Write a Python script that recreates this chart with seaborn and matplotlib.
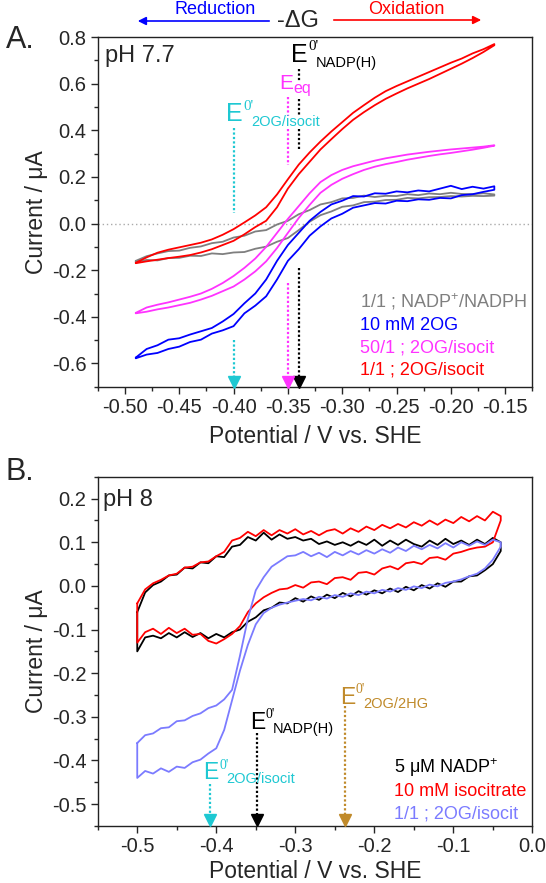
import numpy as np
import pandas as pd
import matplotlib
matplotlib.use("Agg")
import matplotlib.pyplot as plt
import seaborn as sns

# ---------------- panel A data (pH 7.7) ----------------
pot_a = [-0.49, -0.48, -0.47, -0.46, -0.45, -0.44, -0.43, -0.42, -0.41, -0.40,
         -0.39, -0.38, -0.37, -0.36, -0.35, -0.34, -0.33, -0.32, -0.31, -0.30,
         -0.29, -0.28, -0.27, -0.26, -0.25, -0.24, -0.23, -0.22, -0.21, -0.20,
         -0.19, -0.18, -0.17, -0.16]

nadp_up = [-0.160, -0.140, -0.128, -0.118, -0.116, -0.104, -0.098, -0.084, -0.078, -0.060,
           -0.052, -0.034, -0.028, -0.004, 0.012, 0.040, 0.058, 0.082, 0.092, 0.108,
           0.110, 0.120, 0.114, 0.119, 0.118, 0.126, 0.122, 0.129, 0.126, 0.132,
           0.127, 0.126, 0.130, 0.125]
nadp_dn = [-0.165, -0.156, -0.158, -0.148, -0.147, -0.138, -0.139, -0.128, -0.131, -0.124,
           -0.122, -0.108, -0.099, -0.078, -0.062, -0.028, 0.008, 0.036, 0.052, 0.072,
           0.078, 0.092, 0.094, 0.101, 0.102, 0.110, 0.108, 0.113, 0.114, 0.118,
           0.116, 0.119, 0.118, 0.120]

og_up = [-0.575, -0.538, -0.522, -0.498, -0.492, -0.476, -0.462, -0.448, -0.420, -0.388,
         -0.342, -0.300, -0.240, -0.160, -0.092, -0.040, 0.012, 0.050, 0.082, 0.098,
         0.118, 0.116, 0.130, 0.128, 0.138, 0.134, 0.142, 0.138, 0.150, 0.162,
         0.148, 0.158, 0.150, 0.160]
og_dn = [-0.578, -0.562, -0.555, -0.538, -0.528, -0.508, -0.498, -0.472, -0.458, -0.440,
         -0.385, -0.352, -0.312, -0.240, -0.160, -0.110, -0.052, -0.012, 0.022, 0.042,
         0.068, 0.078, 0.088, 0.086, 0.098, 0.096, 0.104, 0.102, 0.110, 0.108,
         0.122, 0.126, 0.136, 0.145]

mix50_up = [-0.383, -0.360, -0.348, -0.338, -0.326, -0.314, -0.300, -0.280, -0.255, -0.225,
            -0.190, -0.150, -0.100, -0.040, 0.020, 0.075, 0.130, 0.178, 0.208, 0.230,
            0.246, 0.258, 0.270, 0.280, 0.288, 0.296, 0.302, 0.308, 0.313, 0.318,
            0.322, 0.326, 0.330, 0.336]
mix50_dn = [-0.385, -0.378, -0.368, -0.360, -0.350, -0.340, -0.326, -0.310, -0.290, -0.270,
            -0.240, -0.205, -0.162, -0.105, -0.040, 0.024, 0.080, 0.132, 0.166, 0.192,
            0.212, 0.230, 0.244, 0.255, 0.264, 0.274, 0.282, 0.290, 0.297, 0.303,
            0.310, 0.317, 0.325, 0.334]

mix1_up = [-0.168, -0.145, -0.125, -0.112, -0.102, -0.092, -0.082, -0.068, -0.048, -0.024,
           0.005, 0.035, 0.070, 0.125, 0.190, 0.253, 0.305, 0.352, 0.395, 0.435,
           0.475, 0.508, 0.540, 0.568, 0.590, 0.610, 0.630, 0.650, 0.670, 0.690,
           0.708, 0.730, 0.748, 0.770]
mix1_dn = [-0.170, -0.162, -0.155, -0.148, -0.142, -0.135, -0.124, -0.110, -0.092, -0.074,
           -0.046, -0.015, 0.012, 0.070, 0.150, 0.212, 0.265, 0.318, 0.362, 0.405,
           0.445, 0.478, 0.508, 0.535, 0.558, 0.580, 0.600, 0.620, 0.642, 0.664,
           0.686, 0.710, 0.736, 0.765]

labels_a = ["1/1 ; NADP$^{+}$/NADPH", "10 mM 2OG", "50/1 ; 2OG/isocit", "1/1 ; 2OG/isocit"]
colors_a = ["#7f7f7f", "#0000ff", "#ff33ff", "#ff0000"]
e_a = [-0.34, -0.35, -0.40]   # NADP(H), Eeq, 2OG/isocit

# ---------------- panel B data (pH 8) ----------------
pot_b = [-0.50, -0.49, -0.48, -0.47, -0.46, -0.45, -0.44, -0.43, -0.42, -0.41,
         -0.40, -0.39, -0.38, -0.37, -0.36, -0.35, -0.34, -0.33, -0.32, -0.31,
         -0.30, -0.29, -0.28, -0.27, -0.26, -0.25, -0.24, -0.23, -0.22, -0.21,
         -0.20, -0.19, -0.18, -0.17, -0.16, -0.15, -0.14, -0.13, -0.12, -0.11,
         -0.10, -0.09, -0.08, -0.07, -0.06, -0.05, -0.04]

nadpb_up = [-0.060, -0.015, 0.002, 0.010, 0.024, 0.026, 0.042, 0.040, 0.054, 0.052,
            0.068, 0.066, 0.090, 0.094, 0.112, 0.104, 0.122, 0.106, 0.118, 0.108,
            0.112, 0.104, 0.108, 0.096, 0.102, 0.094, 0.100, 0.092, 0.102, 0.094,
            0.106, 0.092, 0.104, 0.094, 0.106, 0.096, 0.090, 0.104, 0.094, 0.108,
            0.096, 0.104, 0.094, 0.106, 0.096, 0.110, 0.100]
nadpb_dn = [-0.150, -0.118, -0.114, -0.120, -0.108, -0.118, -0.106, -0.117, -0.108, -0.120,
            -0.110, -0.118, -0.106, -0.100, -0.082, -0.072, -0.056, -0.050, -0.038, -0.040,
            -0.028, -0.036, -0.024, -0.032, -0.020, -0.028, -0.016, -0.024, -0.012, -0.020,
            -0.010, -0.017, -0.006, -0.014, -0.002, -0.010, 0.002, -0.006, 0.006, -0.002,
            0.010, 0.010, 0.022, 0.024, 0.036, 0.050, 0.080]

iso_up = [-0.040, -0.008, 0.006, 0.014, 0.024, 0.028, 0.042, 0.044, 0.054, 0.056,
          0.068, 0.078, 0.104, 0.110, 0.124, 0.114, 0.128, 0.116, 0.128, 0.120,
          0.130, 0.118, 0.126, 0.116, 0.126, 0.130, 0.120, 0.132, 0.124, 0.136,
          0.128, 0.140, 0.132, 0.142, 0.134, 0.146, 0.138, 0.150, 0.140, 0.152,
          0.144, 0.158, 0.148, 0.160, 0.150, 0.170, 0.160]
iso_dn = [-0.130, -0.106, -0.098, -0.110, -0.096, -0.108, -0.098, -0.112, -0.110, -0.126,
          -0.132, -0.122, -0.110, -0.092, -0.060, -0.040, -0.026, -0.016, -0.008, -0.006,
          0.002, -0.004, 0.008, 0.010, 0.004, 0.018, 0.020, 0.014, 0.030, 0.032,
          0.026, 0.040, 0.045, 0.038, 0.052, 0.055, 0.050, 0.064, 0.066, 0.060,
          0.074, 0.078, 0.084, 0.088, 0.090, 0.100, 0.150]

mixb_up = [-0.360, -0.342, -0.338, -0.326, -0.324, -0.310, -0.308, -0.298, -0.292, -0.280,
           -0.274, -0.260, -0.238, -0.160, -0.075, -0.010, 0.020, 0.044, 0.056, 0.068,
           0.070, 0.078, 0.068, 0.076, 0.066, 0.078, 0.070, 0.080, 0.072, 0.082,
           0.074, 0.084, 0.076, 0.088, 0.080, 0.092, 0.084, 0.094, 0.086, 0.098,
           0.088, 0.100, 0.092, 0.102, 0.094, 0.106, 0.100]
mixb_dn = [-0.440, -0.424, -0.430, -0.418, -0.426, -0.414, -0.417, -0.404, -0.398, -0.384,
           -0.372, -0.330, -0.262, -0.194, -0.135, -0.088, -0.062, -0.050, -0.043, -0.038,
           -0.034, -0.030, -0.033, -0.025, -0.029, -0.021, -0.025, -0.017, -0.021, -0.013,
           -0.017, -0.009, -0.013, -0.005, -0.009, -0.001, -0.005, 0.003, -0.001, 0.007,
           0.010, 0.015, 0.022, 0.028, 0.040, 0.060, 0.090]

labels_b = ["5 \u03bcM NADP$^{+}$", "10 mM isocitrate", "1/1 ; 2OG/isocit"]
colors_b = ["#000000", "#ff0000", "#7b7bff"]
e_b = [-0.408, -0.348, -0.237]   # 2OG/isocit, NADP(H), 2OG/2HG

CYAN = "#1ec8d2"
BROWN = "#c08a2a"
PINK = "#ff33ff"

sns.set_style("ticks")
plt.rcParams["font.family"] = ["Liberation Sans", "DejaVu Sans"]
plt.rcParams["mathtext.fontset"] = "custom"
plt.rcParams["mathtext.rm"] = "Liberation Sans"
plt.rcParams["mathtext.it"] = "Liberation Sans:italic"
plt.rcParams["mathtext.default"] = "regular"
plt.rcParams["axes.unicode_minus"] = False


def loop(pot, up, dn):
    # join forward and reverse scans into one closed trace
    x = list(pot) + list(pot[::-1]) + [pot[0]]
    y = list(up) + list(dn[::-1]) + [up[0]]
    return pd.DataFrame({"E": x, "I": y})


def e_label(ax, x, y, sub, color, size=18):
    # E with 0' superscript and a separate, smaller subscript
    ax.annotate("E", (x, y), fontsize=size, color=color, ha="left", va="baseline")
    ax.annotate("0'", (x, y), xytext=(0.68 * size, 0.45 * size), textcoords="offset points",
                fontsize=0.6 * size, family="Liberation Serif", color=color,
                ha="left", va="baseline")
    ax.annotate(sub, (x, y), xytext=(1.0 * size, -0.2 * size), textcoords="offset points",
                fontsize=10.5, color=color, ha="left", va="baseline")


def marker_line(ax, x, segs, color, ybot):
    for (y0, y1) in segs:
        ax.plot([x, x], [y0, y1], ls=(0, (1, 1)), color=color, lw=1.6)
    ax.plot([x], [ybot], marker="v", color=color, ms=8, clip_on=False, zorder=5)


fig = plt.figure(figsize=(5.46, 8.83), dpi=100)
axA = fig.add_axes([0.179, 0.562, 0.796, 0.396])
axB = fig.add_axes([0.179, 0.0646, 0.796, 0.3954])

# ---- panel A ----
axA.axhline(0, color="#aaaaaa", ls=(0, (1, 2)), lw=1)
pairs_a = [(nadp_up, nadp_dn), (og_up, og_dn), (mix50_up, mix50_dn), (mix1_up, mix1_dn)]
for (up, dn), c in zip(pairs_a, colors_a):
    sns.lineplot(data=loop(pot_a, up, dn), x="E", y="I", sort=False, estimator=None,
                 color=c, lw=1.3, ax=axA)

marker_line(axA, e_a[0], [(0.665, 0.609), (0.536, 0.46), (0.405, 0.318), (-0.19, -0.672)],
            "black", -0.678)
marker_line(axA, e_a[1], [(0.545, 0.46), (0.405, 0.253), (-0.253, -0.672)], PINK, -0.678)
marker_line(axA, e_a[2], [(0.412, 0.047), (-0.498, -0.672)], CYAN, -0.678)
e_label(axA, -0.347, 0.695, "NADP(H)", "black")
axA.annotate("E", (-0.358, 0.578), fontsize=15, color=PINK, ha="left", va="baseline")
axA.annotate("eq", (-0.358, 0.578), xytext=(10, -3), textcoords="offset points",
             fontsize=11.5, color=PINK, ha="left", va="baseline")
e_label(axA, -0.407, 0.438, "2OG/isocit", CYAN)
axA.text(0.016, 0.945, "pH 7.7", transform=axA.transAxes, fontsize=17, va="center")
for i, (t, c) in enumerate(zip(labels_a, colors_a)):
    axA.text(-0.284, -0.36 - i * 0.096, t, color=c, fontsize=13, va="baseline")

axA.set_xlim(-0.525, -0.125)
axA.set_ylim(-0.7, 0.8)
axA.set_xticks(np.arange(-0.50, -0.149, 0.05))
axA.set_xticklabels([f"{v:.2f}" for v in np.arange(-0.50, -0.149, 0.05)])
axA.set_xticks(np.arange(-0.525, -0.124, 0.025), minor=True)
axA.set_yticks(np.arange(-0.6, 0.81, 0.2))
axA.set_yticklabels([f"{v:.1f}" if abs(v) > 1e-9 else "0.0" for v in np.arange(-0.6, 0.81, 0.2)])
axA.set_yticks(np.arange(-0.7, 0.81, 0.1), minor=True)

# ---- panel B ----
pairs_b = [(nadpb_up, nadpb_dn), (iso_up, iso_dn), (mixb_up, mixb_dn)]
for (up, dn), c in zip(pairs_b, colors_b):
    sns.lineplot(data=loop(pot_b, up, dn), x="E", y="I", sort=False, estimator=None,
                 color=c, lw=1.3, ax=axB)

marker_line(axB, e_b[0], [(-0.454, -0.533)], CYAN, -0.537)
marker_line(axB, e_b[1], [(-0.336, -0.533)], "black", -0.537)
marker_line(axB, e_b[2], [(-0.274, -0.533)], BROWN, -0.537)
e_label(axB, -0.416, -0.442, "2OG/isocit", CYAN, size=16.5)
e_label(axB, -0.357, -0.327, "NADP(H)", "black", size=16.5)
e_label(axB, -0.243, -0.270, "2OG/2HG", BROWN, size=16.5)
axB.text(0.012, 0.934, "pH 8", transform=axB.transAxes, fontsize=17, va="center")
for i, (t, c) in enumerate(zip(labels_b, colors_b)):
    axB.text(-0.175, -0.429 - i * 0.052, t, color=c, fontsize=13, va="baseline")

axB.set_xlim(-0.55, 0.0)
axB.set_ylim(-0.55, 0.25)
axB.set_xticks(np.arange(-0.5, 0.01, 0.1))
axB.set_xticklabels([f"{v:.1f}" if abs(v) > 1e-9 else "0.0" for v in np.arange(-0.5, 0.01, 0.1)])
axB.set_xticks(np.arange(-0.55, 0.001, 0.05), minor=True)
axB.set_yticks(np.arange(-0.5, 0.21, 0.1))
axB.set_yticklabels([f"{v:.1f}" if abs(v) > 1e-9 else "0.0" for v in np.arange(-0.5, 0.21, 0.1)])
axB.set_yticks(np.arange(-0.55, 0.251, 0.05), minor=True)

for ax, lp in ((axA, 6), (axB, 3)):
    ax.set_xlabel("Potential / V vs. SHE", fontsize=16.5, labelpad=lp)
    ax.set_ylabel("Current / \u03bcA", fontsize=16.5, labelpad=3)
    ax.tick_params(which="major", direction="out", length=5, width=1, labelsize=14.5,
                   pad=3, top=False, right=False)
    ax.tick_params(which="minor", direction="out", length=3, width=1, top=False, right=False)
    for s in ax.spines.values():
        s.set_linewidth(1.0)
        s.set_color("#222222")

# panel letters and the -dG header
fig.text(0.01, 0.955, "A.", fontsize=22, va="center")
fig.text(0.01, 0.466, "B.", fontsize=22, va="center")
fig.text(215 / 546, 1 - 9 / 883, "Reduction", color="#0000ff", fontsize=13, ha="center", va="center")
fig.text(406 / 546, 1 - 9 / 883, "Oxidation", color="#ff0000", fontsize=13, ha="center", va="center")
fig.text(298 / 546, 1 - 21 / 883, "-\u0394G", fontsize=17, ha="center", va="center")
fig.patches.append(matplotlib.patches.FancyArrowPatch(
    (272 / 546, 1 - 21 / 883), (135 / 546, 1 - 21 / 883), transform=fig.transFigure,
    arrowstyle="-|>", mutation_scale=12, color="#0000ff", lw=1.2))
fig.patches.append(matplotlib.patches.FancyArrowPatch(
    (331 / 546, 1 - 20 / 883), (484 / 546, 1 - 20 / 883), transform=fig.transFigure,
    arrowstyle="-|>", mutation_scale=12, color="#ff0000", lw=1.2))

fig.savefig("out.png", dpi=100)
